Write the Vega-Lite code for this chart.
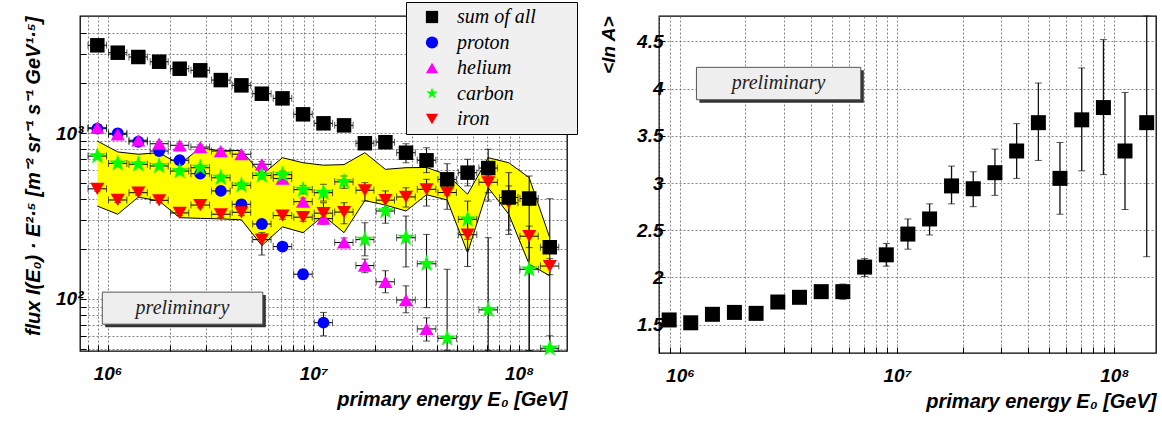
{
"$schema": "https://vega.github.io/schema/vega-lite/v6.json",
"padding": {"left": 22, "top": 1, "right": 5, "bottom": 5},
"background": "white",
"spacing": 92,
"bounds": "flush",
"datasets": {
"bins": [
{"i":1,"E":891000,"elo":803000,"ehi":988000},
{"i":2,"E":1120000,"elo":1010000,"ehi":1240000},
{"i":3,"E":1410000,"elo":1270000,"ehi":1560000},
{"i":4,"E":1780000,"elo":1610000,"ehi":1970000},
{"i":5,"E":2240000,"elo":2020000,"ehi":2480000},
{"i":6,"E":2820000,"elo":2540000,"ehi":3130000},
{"i":7,"E":3550000,"elo":3200000,"ehi":3940000},
{"i":8,"E":4470000,"elo":4030000,"ehi":4960000},
{"i":9,"E":5620000,"elo":5070000,"ehi":6230000},
{"i":10,"E":7080000,"elo":6380000,"ehi":7850000},
{"i":11,"E":8910000,"elo":8030000,"ehi":9880000},
{"i":12,"E":11200000,"elo":10100000,"ehi":12400000},
{"i":13,"E":14100000,"elo":12700000,"ehi":15600000},
{"i":14,"E":17800000,"elo":16100000,"ehi":19700000},
{"i":15,"E":22400000,"elo":20200000,"ehi":24800000},
{"i":16,"E":28200000,"elo":25400000,"ehi":31300000},
{"i":17,"E":35500000,"elo":32000000,"ehi":39400000},
{"i":18,"E":44700000,"elo":40300000,"ehi":49600000},
{"i":19,"E":56200000,"elo":50700000,"ehi":62300000},
{"i":20,"E":70800000,"elo":63800000,"ehi":78500000},
{"i":21,"E":89100000,"elo":80300000,"ehi":98800000},
{"i":22,"E":112000000,"elo":101000000,"ehi":124000000},
{"i":23,"E":141000000,"elo":127000000,"ehi":156000000}
],
"band": [
{"i":1,"up":895,"dn":363},{"i":2,"up":769,"dn":324},{"i":3,"up":745,"dn":411},{"i":4,"up":761,"dn":389},
{"i":5,"up":647,"dn":309},{"i":6,"up":815,"dn":306},{"i":7,"up":780,"dn":304},{"i":8,"up":786,"dn":300},
{"i":9,"up":560,"dn":210},{"i":10,"up":710,"dn":272},{"i":11,"up":662,"dn":251},{"i":12,"up":640,"dn":318},
{"i":13,"up":645,"dn":251},{"i":14,"up":761,"dn":392},{"i":15,"up":604,"dn":368},{"i":16,"up":618,"dn":339},
{"i":17,"up":620,"dn":425},{"i":18,"up":560,"dn":395},{"i":19,"up":428,"dn":190},{"i":20,"up":710,"dn":468},
{"i":21,"up":662,"dn":324},{"i":22,"up":538,"dn":162},{"i":23,"up":234,"dn":138}
],
"pts": [
{"s":"proton","i":1,"v":1062,"lo":1035,"hi":1090},
{"s":"proton","i":2,"v":996,"lo":970,"hi":1022},
{"s":"proton","i":3,"v":886,"lo":862,"hi":910},
{"s":"proton","i":4,"v":779,"lo":758,"hi":800},
{"s":"proton","i":5,"v":685,"lo":665,"hi":705},
{"s":"proton","i":6,"v":569,"lo":552,"hi":586},
{"s":"proton","i":7,"v":448,"lo":434,"hi":462},
{"s":"proton","i":8,"v":372,"lo":358,"hi":386},
{"s":"proton","i":9,"v":283,"lo":270,"hi":296},
{"s":"proton","i":10,"v":207,"lo":196,"hi":218},
{"s":"proton","i":11,"v":141,"lo":132,"hi":150},
{"s":"proton","i":12,"v":72,"lo":60,"hi":83},
{"s":"helium","i":1,"v":1076,"lo":1045,"hi":1105},
{"s":"helium","i":2,"v":982,"lo":955,"hi":1010},
{"s":"helium","i":3,"v":904,"lo":878,"hi":930},
{"s":"helium","i":4,"v":862,"lo":838,"hi":886},
{"s":"helium","i":5,"v":843,"lo":818,"hi":868},
{"s":"helium","i":6,"v":823,"lo":798,"hi":848},
{"s":"helium","i":7,"v":779,"lo":755,"hi":803},
{"s":"helium","i":8,"v":745,"lo":720,"hi":770},
{"s":"helium","i":9,"v":648,"lo":622,"hi":674},
{"s":"helium","i":10,"v":532,"lo":508,"hi":556},
{"s":"helium","i":11,"v":386,"lo":366,"hi":406},
{"s":"helium","i":12,"v":305,"lo":285,"hi":325},
{"s":"helium","i":13,"v":219,"lo":205,"hi":233},
{"s":"helium","i":14,"v":159,"lo":144,"hi":174},
{"s":"helium","i":15,"v":127,"lo":109,"hi":148},
{"s":"helium","i":16,"v":98.6,"lo":82.6,"hi":120},
{"s":"helium","i":17,"v":66,"lo":55.8,"hi":77},
{"s":"carbon","i":1,"v":726,"lo":705,"hi":748},
{"s":"carbon","i":2,"v":656,"lo":636,"hi":676},
{"s":"carbon","i":3,"v":648,"lo":628,"hi":668},
{"s":"carbon","i":4,"v":633,"lo":613,"hi":653},
{"s":"carbon","i":5,"v":590,"lo":570,"hi":610},
{"s":"carbon","i":6,"v":618,"lo":597,"hi":639},
{"s":"carbon","i":7,"v":538,"lo":518,"hi":558},
{"s":"carbon","i":8,"v":484,"lo":463,"hi":505},
{"s":"carbon","i":9,"v":555,"lo":530,"hi":580},
{"s":"carbon","i":10,"v":561,"lo":532,"hi":590},
{"s":"carbon","i":11,"v":456,"lo":430,"hi":482},
{"s":"carbon","i":12,"v":437,"lo":389,"hi":491},
{"s":"carbon","i":13,"v":508,"lo":464,"hi":551},
{"s":"carbon","i":14,"v":228,"lo":182,"hi":288},
{"s":"carbon","i":15,"v":339,"lo":286,"hi":389},
{"s":"carbon","i":16,"v":234,"lo":156,"hi":316},
{"s":"carbon","i":17,"v":163,"lo":88.7,"hi":245},
{"s":"carbon","i":18,"v":58,"lo":49,"hi":151},
{"s":"carbon","i":19,"v":302,"lo":229,"hi":389},
{"s":"carbon","i":20,"v":86,"lo":49,"hi":234},
{"s":"carbon","i":22,"v":151,"lo":49,"hi":250},
{"s":"carbon","i":23,"v":50.5,"lo":49,"hi":60},
{"s":"iron","i":1,"v":461,"lo":447,"hi":475},
{"s":"iron","i":2,"v":395,"lo":382,"hi":408},
{"s":"iron","i":3,"v":437,"lo":423,"hi":451},
{"s":"iron","i":4,"v":393,"lo":380,"hi":406},
{"s":"iron","i":5,"v":330,"lo":318,"hi":342},
{"s":"iron","i":6,"v":368,"lo":354,"hi":382},
{"s":"iron","i":7,"v":324,"lo":310,"hi":338},
{"s":"iron","i":8,"v":333,"lo":318,"hi":348},
{"s":"iron","i":9,"v":228,"lo":184,"hi":251},
{"s":"iron","i":10,"v":318,"lo":302,"hi":334},
{"s":"iron","i":11,"v":311,"lo":294,"hi":328},
{"s":"iron","i":12,"v":329,"lo":282,"hi":380},
{"s":"iron","i":13,"v":334,"lo":284,"hi":380},
{"s":"iron","i":14,"v":452,"lo":389,"hi":502},
{"s":"iron","i":15,"v":394,"lo":355,"hi":448},
{"s":"iron","i":16,"v":412,"lo":358,"hi":468},
{"s":"iron","i":17,"v":458,"lo":363,"hi":526},
{"s":"iron","i":18,"v":438,"lo":347,"hi":502},
{"s":"iron","i":19,"v":244,"lo":157,"hi":295},
{"s":"iron","i":20,"v":505,"lo":437,"hi":551},
{"s":"iron","i":21,"v":380,"lo":260,"hi":480},
{"s":"iron","i":22,"v":239,"lo":204,"hi":275},
{"s":"iron","i":23,"v":158,"lo":140,"hi":175},
{"s":"sum of all","i":1,"v":3376,"lo":3300,"hi":3450},
{"s":"sum of all","i":2,"v":3047,"lo":2980,"hi":3115},
{"s":"sum of all","i":3,"v":2871,"lo":2805,"hi":2937},
{"s":"sum of all","i":4,"v":2689,"lo":2625,"hi":2753},
{"s":"sum of all","i":5,"v":2440,"lo":2380,"hi":2500},
{"s":"sum of all","i":6,"v":2387,"lo":2325,"hi":2450},
{"s":"sum of all","i":7,"v":2084,"lo":2030,"hi":2140},
{"s":"sum of all","i":8,"v":1937,"lo":1885,"hi":1990},
{"s":"sum of all","i":9,"v":1725,"lo":1675,"hi":1775},
{"s":"sum of all","i":10,"v":1617,"lo":1565,"hi":1670},
{"s":"sum of all","i":11,"v":1296,"lo":1250,"hi":1342},
{"s":"sum of all","i":12,"v":1144,"lo":1100,"hi":1188},
{"s":"sum of all","i":13,"v":1112,"lo":1065,"hi":1160},
{"s":"sum of all","i":14,"v":868,"lo":830,"hi":906},
{"s":"sum of all","i":15,"v":880,"lo":835,"hi":925},
{"s":"sum of all","i":16,"v":761,"lo":662,"hi":862},
{"s":"sum of all","i":17,"v":685,"lo":577,"hi":815},
{"s":"sum of all","i":18,"v":526,"lo":422,"hi":653},
{"s":"sum of all","i":19,"v":577,"lo":480,"hi":695},
{"s":"sum of all","i":20,"v":615,"lo":389,"hi":798},
{"s":"sum of all","i":21,"v":409,"lo":245,"hi":577},
{"s":"sum of all","i":22,"v":403,"lo":49,"hi":551},
{"s":"sum of all","i":23,"v":205,"lo":49,"hi":402}
],
"lna": [
{"i":1,"v":1.55,"lo":1.53,"hi":1.57},{"i":2,"v":1.52,"lo":1.5,"hi":1.54},{"i":3,"v":1.61,"lo":1.59,"hi":1.63},
{"i":4,"v":1.63,"lo":1.61,"hi":1.65},{"i":5,"v":1.62,"lo":1.6,"hi":1.64},{"i":6,"v":1.74,"lo":1.71,"hi":1.77},
{"i":7,"v":1.79,"lo":1.76,"hi":1.82},{"i":8,"v":1.85,"lo":1.79,"hi":1.9},{"i":9,"v":1.85,"lo":1.77,"hi":1.93},
{"i":10,"v":2.11,"lo":2.01,"hi":2.2},{"i":11,"v":2.24,"lo":2.12,"hi":2.36},{"i":12,"v":2.46,"lo":2.3,"hi":2.62},
{"i":13,"v":2.62,"lo":2.45,"hi":2.78},{"i":14,"v":2.97,"lo":2.78,"hi":3.18},{"i":15,"v":2.94,"lo":2.75,"hi":3.12},
{"i":16,"v":3.11,"lo":2.87,"hi":3.36},{"i":17,"v":3.34,"lo":3.05,"hi":3.63},{"i":18,"v":3.64,"lo":3.24,"hi":4.06},
{"i":19,"v":3.05,"lo":2.67,"hi":3.43},{"i":20,"v":3.67,"lo":3.13,"hi":4.22},{"i":21,"v":3.8,"lo":3.09,"hi":4.52},
{"i":22,"v":3.34,"lo":2.72,"hi":3.96},{"i":23,"v":3.64,"lo":2.22,"hi":4.77}
],
"prelimL": [{"x1":942000,"x2":5680000,"y1":70.5,"y2":110,"xc":2310000,"yc":88,"t":"preliminary"}],
"prelimR": [{"x1":1190000,"x2":6800000,"y1":3.883,"y2":4.226,"xc":2840000,"yc":4.055,"t":"preliminary"}]
},
"hconcat": [
{
"width": 487, "height": 335,
"layer": [
{"data":{"name":"band"},"transform":[{"lookup":"i","from":{"data":{"name":"bins"},"key":"i","fields":["E"]}}],
 "mark":{"type":"area","color":"#ffff00","opacity":1},
 "encoding":{
  "x":{"field":"E","type":"quantitative","title":"primary energy E₀  [GeV]","scale":{"type":"log","domain":[734000,171000000],"nice":false},
   "axis":{"titleAnchor":"end","grid":true,"labelOverlap":false,"titleFontSize":20,
    "values":[800000,900000,1000000,2000000,3000000,4000000,5000000,6000000,7000000,8000000,9000000,10000000,20000000,30000000,40000000,50000000,60000000,70000000,80000000,90000000,100000000],
    "labelExpr":"datum.value == 1000000 ? '10⁶' : datum.value == 10000000 ? '10⁷' : datum.value == 100000000 ? '10⁸' : ''",
    "labelPadding":19,"titlePadding":6}},
  "y":{"field":"up","type":"quantitative","title":"flux I(E₀) · E²·⁵ [m⁻² sr⁻¹ s⁻¹ GeV¹·⁵]","scale":{"type":"log","domain":[48.6,5070],"nice":false},
   "axis":{"titleAnchor":"end","grid":true,"labelOverlap":false,"titleFontSize":20,
    "values":[50,60,70,80,90,100,200,300,400,500,600,700,800,900,1000,2000,3000,4000],
    "labelExpr":"datum.value == 100 ? '10²' : datum.value == 1000 ? '10³' : ''",
    "labelPadding":3,"titlePadding":12}},
  "y2":{"field":"dn"}}},
{"data":{"name":"band"},"transform":[{"lookup":"i","from":{"data":{"name":"bins"},"key":"i","fields":["E"]}}],
 "mark":{"type":"line","color":"black","strokeWidth":1},
 "encoding":{"x":{"field":"E","type":"quantitative","title":"primary energy E₀  [GeV]","scale":{"type":"log","domain":[734000,171000000],"nice":false}},
  "y":{"field":"up","type":"quantitative","title":"flux I(E₀) · E²·⁵ [m⁻² sr⁻¹ s⁻¹ GeV¹·⁵]","scale":{"type":"log","domain":[48.6,5070],"nice":false}}}},
{"data":{"name":"band"},"transform":[{"lookup":"i","from":{"data":{"name":"bins"},"key":"i","fields":["E"]}}],
 "mark":{"type":"line","color":"black","strokeWidth":1},
 "encoding":{"x":{"field":"E","type":"quantitative","title":"primary energy E₀  [GeV]","scale":{"type":"log","domain":[734000,171000000],"nice":false}},
  "y":{"field":"dn","type":"quantitative","title":"flux I(E₀) · E²·⁵ [m⁻² sr⁻¹ s⁻¹ GeV¹·⁵]","scale":{"type":"log","domain":[48.6,5070],"nice":false}}}},
{"data":{"name":"prelimL"},
 "mark":{"type":"rect","fill":"#333333","xOffset":3,"x2Offset":3,"yOffset":3,"y2Offset":3},
 "encoding":{"x":{"field":"x1","type":"quantitative","title":"primary energy E₀  [GeV]","scale":{"type":"log","domain":[734000,171000000],"nice":false}},"x2":{"field":"x2"},
  "y":{"field":"y1","type":"quantitative","title":"flux I(E₀) · E²·⁵ [m⁻² sr⁻¹ s⁻¹ GeV¹·⁵]","scale":{"type":"log","domain":[48.6,5070],"nice":false}},"y2":{"field":"y2"}}},
{"data":{"name":"prelimL"},
 "mark":{"type":"rect","fill":"#eeeeee","stroke":"#555555","strokeWidth":1},
 "encoding":{"x":{"field":"x1","type":"quantitative","title":"primary energy E₀  [GeV]","scale":{"type":"log","domain":[734000,171000000],"nice":false}},"x2":{"field":"x2"},
  "y":{"field":"y1","type":"quantitative","title":"flux I(E₀) · E²·⁵ [m⁻² sr⁻¹ s⁻¹ GeV¹·⁵]","scale":{"type":"log","domain":[48.6,5070],"nice":false}},"y2":{"field":"y2"}}},
{"data":{"name":"prelimL"},
 "mark":{"type":"text","font":"Liberation Serif","fontStyle":"italic","fontSize":20,"color":"#222222","align":"center","baseline":"middle"},
 "encoding":{"x":{"field":"xc","type":"quantitative","title":"primary energy E₀  [GeV]","scale":{"type":"log","domain":[734000,171000000],"nice":false}},
  "y":{"field":"yc","type":"quantitative","title":"flux I(E₀) · E²·⁵ [m⁻² sr⁻¹ s⁻¹ GeV¹·⁵]","scale":{"type":"log","domain":[48.6,5070],"nice":false}},"text":{"field":"t"}}},
{"data":{"name":"pts"},"transform":[{"lookup":"i","from":{"data":{"name":"bins"},"key":"i","fields":["E","elo","ehi"]}}],
 "mark":{"type":"errorbar","ticks":{"size":7,"color":"#111111"},"rule":{"color":"#111111","strokeWidth":1.1}},
 "encoding":{"x":{"field":"elo","type":"quantitative","title":"primary energy E₀  [GeV]","scale":{"type":"log","domain":[734000,171000000],"nice":false}},"x2":{"field":"ehi"},
  "y":{"field":"v","type":"quantitative","title":"flux I(E₀) · E²·⁵ [m⁻² sr⁻¹ s⁻¹ GeV¹·⁵]","scale":{"type":"log","domain":[48.6,5070],"nice":false}}}},
{"data":{"name":"pts"},"transform":[{"lookup":"i","from":{"data":{"name":"bins"},"key":"i","fields":["E","elo","ehi"]}}],
 "mark":{"type":"errorbar","ticks":{"size":7,"color":"#111111"},"rule":{"color":"#111111","strokeWidth":1.1}},
 "encoding":{"x":{"field":"E","type":"quantitative","title":"primary energy E₀  [GeV]","scale":{"type":"log","domain":[734000,171000000],"nice":false}},
  "y":{"field":"lo","type":"quantitative","title":"flux I(E₀) · E²·⁵ [m⁻² sr⁻¹ s⁻¹ GeV¹·⁵]","scale":{"type":"log","domain":[48.6,5070],"nice":false}},"y2":{"field":"hi"}}},
{"data":{"name":"pts"},"transform":[{"filter":"datum.s === 'proton'"},{"lookup":"i","from":{"data":{"name":"bins"},"key":"i","fields":["E"]}}],
 "mark":{"type":"point","filled":true,"opacity":1,"size":140},
 "encoding":{"x":{"field":"E","type":"quantitative","title":"primary energy E₀  [GeV]","scale":{"type":"log","domain":[734000,171000000],"nice":false}},
  "y":{"field":"v","type":"quantitative","title":"flux I(E₀) · E²·⁵ [m⁻² sr⁻¹ s⁻¹ GeV¹·⁵]","scale":{"type":"log","domain":[48.6,5070],"nice":false}},
  "color":{"field":"s","type":"nominal","scale":{"domain":["sum of all","proton","helium","carbon","iron"],"range":["#000000","#0000ff","#ff00ff","#00ff00","#ff0000"]},
   "legend":{"orient":"none","legendX":326,"legendY":-14,"title":".","titleOrient":"right","titleColor":"rgba(0,0,0,0)","titlePadding":34,"fillColor":"#f0f0f0","strokeColor":"black","padding":3,"symbolOffset":13,"labelOffset":15,"labelFont":"Liberation Serif","labelFontSize":20,"labelFontStyle":"italic","labelColor":"black","clipHeight":24,"rowPadding":1.5,"symbolSize":150,"symbolStrokeWidth":0}},
  "shape":{"field":"s","type":"nominal","scale":{"domain":["sum of all","proton","helium","carbon","iron"],"range":["square","circle","triangle-up","M0,-1L0.2233,-0.3074L0.9511,-0.309L0.3614,0.1174L0.5878,0.809L0,0.38L-0.5878,0.809L-0.3614,0.1174L-0.9511,-0.309L-0.2233,-0.3074Z","triangle-down"]},
   "legend":{"orient":"none","legendX":326,"legendY":-14,"title":".","titleOrient":"right","titleColor":"rgba(0,0,0,0)","titlePadding":34,"fillColor":"#f0f0f0","strokeColor":"black","padding":3,"symbolOffset":13,"labelOffset":15,"labelFont":"Liberation Serif","labelFontSize":20,"labelFontStyle":"italic","labelColor":"black","clipHeight":24,"rowPadding":1.5,"symbolSize":150,"symbolStrokeWidth":0}}}},
{"data":{"name":"pts"},"transform":[{"filter":"datum.s === 'helium'"},{"lookup":"i","from":{"data":{"name":"bins"},"key":"i","fields":["E"]}}],
 "mark":{"type":"point","filled":true,"opacity":1,"size":200},
 "encoding":{"x":{"field":"E","type":"quantitative","title":"primary energy E₀  [GeV]","scale":{"type":"log","domain":[734000,171000000],"nice":false}},
  "y":{"field":"v","type":"quantitative","title":"flux I(E₀) · E²·⁵ [m⁻² sr⁻¹ s⁻¹ GeV¹·⁵]","scale":{"type":"log","domain":[48.6,5070],"nice":false}},
  "color":{"field":"s","type":"nominal"},"shape":{"field":"s","type":"nominal"}}},
{"data":{"name":"pts"},"transform":[{"filter":"datum.s === 'carbon'"},{"lookup":"i","from":{"data":{"name":"bins"},"key":"i","fields":["E"]}}],
 "mark":{"type":"point","filled":true,"opacity":1,"size":340},
 "encoding":{"x":{"field":"E","type":"quantitative","title":"primary energy E₀  [GeV]","scale":{"type":"log","domain":[734000,171000000],"nice":false}},
  "y":{"field":"v","type":"quantitative","title":"flux I(E₀) · E²·⁵ [m⁻² sr⁻¹ s⁻¹ GeV¹·⁵]","scale":{"type":"log","domain":[48.6,5070],"nice":false}},
  "color":{"field":"s","type":"nominal"},"shape":{"field":"s","type":"nominal"}}},
{"data":{"name":"pts"},"transform":[{"filter":"datum.s === 'iron'"},{"lookup":"i","from":{"data":{"name":"bins"},"key":"i","fields":["E"]}}],
 "mark":{"type":"point","filled":true,"opacity":1,"size":200},
 "encoding":{"x":{"field":"E","type":"quantitative","title":"primary energy E₀  [GeV]","scale":{"type":"log","domain":[734000,171000000],"nice":false}},
  "y":{"field":"v","type":"quantitative","title":"flux I(E₀) · E²·⁵ [m⁻² sr⁻¹ s⁻¹ GeV¹·⁵]","scale":{"type":"log","domain":[48.6,5070],"nice":false}},
  "color":{"field":"s","type":"nominal"},"shape":{"field":"s","type":"nominal"}}},
{"data":{"name":"pts"},"transform":[{"filter":"datum.s === 'sum of all'"},{"lookup":"i","from":{"data":{"name":"bins"},"key":"i","fields":["E"]}}],
 "mark":{"type":"point","filled":true,"opacity":1,"size":210},
 "encoding":{"x":{"field":"E","type":"quantitative","title":"primary energy E₀  [GeV]","scale":{"type":"log","domain":[734000,171000000],"nice":false}},
  "y":{"field":"v","type":"quantitative","title":"flux I(E₀) · E²·⁵ [m⁻² sr⁻¹ s⁻¹ GeV¹·⁵]","scale":{"type":"log","domain":[48.6,5070],"nice":false}},
  "color":{"field":"s","type":"nominal"},"shape":{"field":"s","type":"nominal"}}}
]
},
{
"width": 497, "height": 337,
"layer": [
{"data":{"name":"prelimR"},
 "mark":{"type":"rect","fill":"#333333","xOffset":3,"x2Offset":3,"yOffset":3,"y2Offset":3},
 "encoding":{"x":{"field":"x1","type":"quantitative","title":"primary energy E₀  [GeV]","scale":{"type":"log","domain":[800000,155600000],"nice":false},
   "axis":{"titleAnchor":"end","grid":true,"labelOverlap":false,"titleFontSize":20,
    "values":[800000,900000,1000000,2000000,3000000,4000000,5000000,6000000,7000000,8000000,9000000,10000000,20000000,30000000,40000000,50000000,60000000,70000000,80000000,90000000,100000000],
    "labelExpr":"datum.value == 1000000 ? '10⁶' : datum.value == 10000000 ? '10⁷' : datum.value == 100000000 ? '10⁸' : ''",
    "labelPadding":19,"titlePadding":6}},"x2":{"field":"x2"},
  "y":{"field":"y1","type":"quantitative","title":"<ln A>","scale":{"domain":[1.2,4.77],"nice":false,"zero":false},
   "axis":{"titleAnchor":"end","grid":true,"values":[1.5,2,2.5,3,3.5,4,4.5],"format":"~g","labelPadding":2,"titlePadding":18,"titleFontSize":19}},"y2":{"field":"y2"}}},
{"data":{"name":"prelimR"},
 "mark":{"type":"rect","fill":"#eeeeee","stroke":"#555555","strokeWidth":1},
 "encoding":{"x":{"field":"x1","type":"quantitative","title":"primary energy E₀  [GeV]","scale":{"type":"log","domain":[800000,155600000],"nice":false}},"x2":{"field":"x2"},
  "y":{"field":"y1","type":"quantitative","title":"<ln A>","scale":{"domain":[1.2,4.77],"nice":false,"zero":false}},"y2":{"field":"y2"}}},
{"data":{"name":"prelimR"},
 "mark":{"type":"text","font":"Liberation Serif","fontStyle":"italic","fontSize":20,"color":"#222222","align":"center","baseline":"middle"},
 "encoding":{"x":{"field":"xc","type":"quantitative","title":"primary energy E₀  [GeV]","scale":{"type":"log","domain":[800000,155600000],"nice":false}},
  "y":{"field":"yc","type":"quantitative","title":"<ln A>","scale":{"domain":[1.2,4.77],"nice":false,"zero":false}},"text":{"field":"t"}}},
{"data":{"name":"lna"},"transform":[{"lookup":"i","from":{"data":{"name":"bins"},"key":"i","fields":["E"]}}],
 "mark":{"type":"errorbar","ticks":{"size":7,"color":"#111111"},"rule":{"color":"#111111","strokeWidth":1.3}},
 "encoding":{"x":{"field":"E","type":"quantitative","title":"primary energy E₀  [GeV]","scale":{"type":"log","domain":[800000,155600000],"nice":false}},
  "y":{"field":"lo","type":"quantitative","title":"<ln A>","scale":{"domain":[1.2,4.77],"nice":false,"zero":false}},"y2":{"field":"hi"}}},
{"data":{"name":"lna"},"transform":[{"lookup":"i","from":{"data":{"name":"bins"},"key":"i","fields":["E"]}}],
 "mark":{"type":"point","shape":"square","filled":true,"color":"black","opacity":1,"size":225},
 "encoding":{"x":{"field":"E","type":"quantitative","title":"primary energy E₀  [GeV]","scale":{"type":"log","domain":[800000,155600000],"nice":false}},
  "y":{"field":"v","type":"quantitative","title":"<ln A>","scale":{"domain":[1.2,4.77],"nice":false,"zero":false}}}}
]
}
],
"config": {
 "view": {"stroke": "black", "strokeWidth": 1.3},
 "axis": {"domain": false, "ticks": true, "tickSize": -6, "tickColor": "black", "tickWidth": 1,
  "labelFont": "Liberation Sans", "labelFontSize": 19, "labelFontWeight": "bold", "labelFontStyle": "italic", "labelColor": "black",
  "titleFont": "Liberation Sans", "titleFontSize": 17, "titleFontWeight": "bold", "titleFontStyle": "italic", "titleColor": "black",
  "gridColor": "#666666", "gridDash": [2, 2], "gridWidth": 0.8}
}
}
